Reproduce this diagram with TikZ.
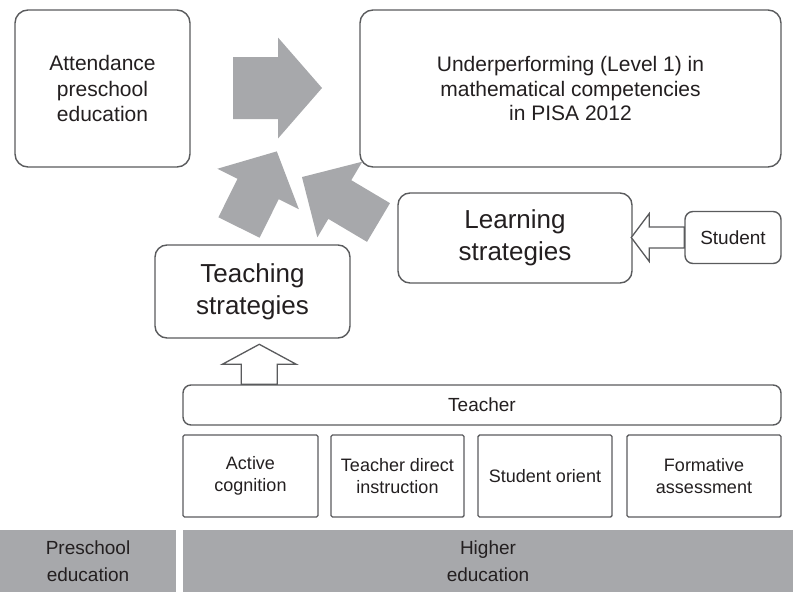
\documentclass[tikz,border=0pt]{standalone}
\usepackage{fontspec}
\setmainfont{Liberation Sans}
\usetikzlibrary{calc}

\definecolor{arrowgrey}{HTML}{A7A8AB}
\definecolor{linegrey}{HTML}{5A5B5D}
\definecolor{textgrey}{HTML}{231F20}

\tikzset{
  box/.style={draw=linegrey, line width=1.4pt, fill=white, rounded corners=13pt,
    align=center, inner sep=0pt, text=textgrey},
  cell/.style={draw=linegrey, line width=1.4pt, rounded corners=1.5pt, align=center,
    inner sep=0pt, text=textgrey, font=\fontsize{18}{21.5}\selectfont},
  band/.style={fill=arrowgrey, inner sep=0pt, align=center, text=textgrey,
    font=\fontsize{19}{27}\selectfont},
  fat/.style={fill=arrowgrey},
  hollow/.style={draw=linegrey, line width=1.3pt, fill=white},
}

% block arrow: style, base, angle, length, shaft width, head width, head length
\newcommand{\blockarrow}[7]{%
  \begin{scope}[shift={(#2)}, rotate=#3]
    \path[#1] (0,{-#5/2}) -- ({#4-#7},{-#5/2}) -- ({#4-#7},{-#6/2}) -- (#4,0)
      -- ({#4-#7},{#6/2}) -- ({#4-#7},{#5/2}) -- (0,{#5/2}) -- cycle;
  \end{scope}}

\begin{document}
\begin{tikzpicture}[x=1pt, y=1pt]
\useasboundingbox (0,0) rectangle (793,-592);

% top row
\node[box, minimum width=175, minimum height=157, font=\fontsize{21}{25.5}\selectfont]
  (attend) at (102.5,-88.5) {Attendance\\preschool\\education};
\node[box, minimum width=421, minimum height=157, font=\fontsize{21}{24.5}\selectfont]
  (under) at (570.5,-88.5) {Underperforming (Level 1) in\\mathematical competencies\\in PISA 2012};

% strategies
\node[box, rounded corners=12pt, minimum width=234, minimum height=90, font=\fontsize{26}{32}\selectfont]
  (learn) at (515,-238) {Learning\\strategies};
\node[box, rounded corners=8pt, minimum width=96, minimum height=52, font=\fontsize{19}{22}\selectfont]
  (student) at (733,-237.5) {Student};
\node[box, rounded corners=12pt, minimum width=195, minimum height=93, font=\fontsize{26}{32}\selectfont]
  (teach) at (252.5,-291.5) {Teaching\\strategies};

% teacher and its four practices
\node[box, rounded corners=8pt, minimum width=598, minimum height=40, font=\fontsize{19}{22}\selectfont]
  (teacher) at (482,-405) {Teacher};
\node[cell, minimum width=135, minimum height=82] (active) at (250.5,-476) {Active\\cognition};
\node[cell, minimum width=133, minimum height=82] (direct) at (397.5,-476) {Teacher direct\\instruction};
\node[cell, minimum width=134, minimum height=82] (orient) at (545,-476) {Student orient};
\node[cell, minimum width=154, minimum height=82] (formative) at (704,-476) {Formative\\assessment};

% education levels
\node[band, minimum width=176, minimum height=62] (pre) at (88,-561) {Preschool\\education};
\node[band, minimum width=610, minimum height=62] (higher) at (488,-561) {Higher\\education};

% grey arrows into the outcome
\blockarrow{fat}{233,-88}{0}{89}{62}{101}{44}
\blockarrow{fat}{239,-227.5}{63.6}{85}{46}{91}{42}
\blockarrow{fat}{378.5,-222.5}{149.3}{89}{45}{88}{44}

% hollow arrows
\blockarrow{hollow}{$(teacher.north west)+(77,0)$}{90}{40}{36}{74}{20}
\blockarrow{hollow}{student.west}{180}{53}{21}{48}{18}
\end{tikzpicture}
\end{document}
